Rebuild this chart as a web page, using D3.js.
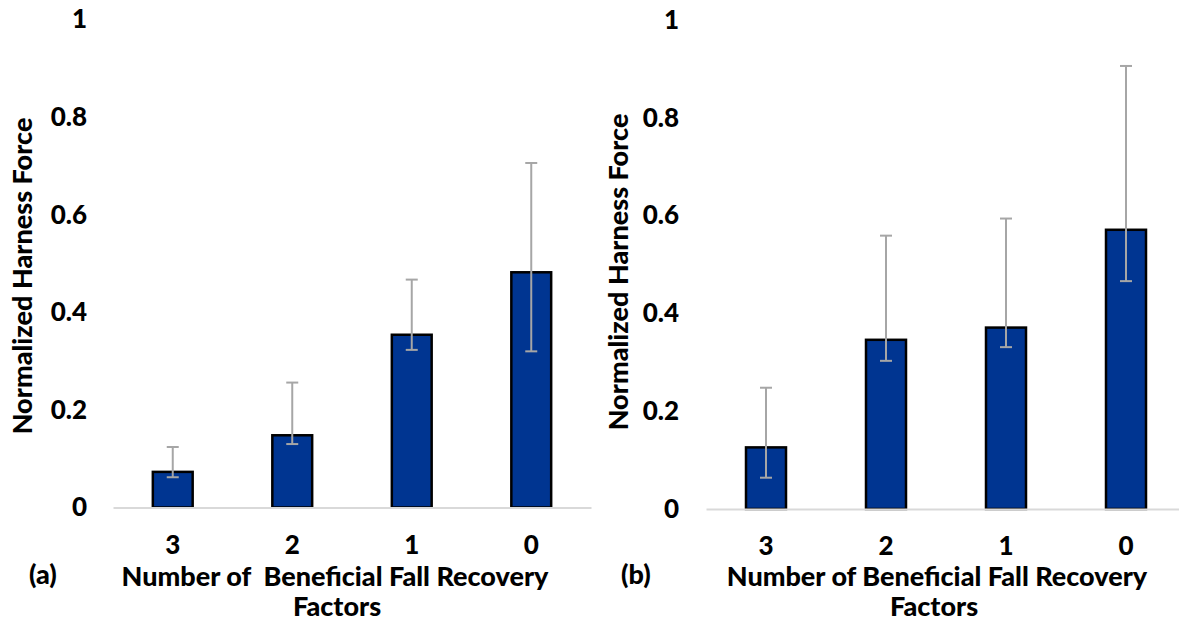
<!DOCTYPE html>
<html>
<head>
<meta charset="utf-8">
<title>Normalized Harness Force</title>
<script src="https://d3js.org/d3.v7.min.js"></script>
<style>
    body { margin: 0; background: #fff; }
    svg text { font-family: Lato, "Open Sans", sans-serif; font-weight: 900; fill: #000; }
</style>
</head>
<body>
<svg id="chart" width="1179" height="622"></svg>
<script>
    // values
    const categories = ["3", "2", "1", "0"];
    const yTicks = [0, 0.2, 0.4, 0.6, 0.8, 1];

    const meansA = [0.073, 0.148, 0.354, 0.482];
    const upperA = [0.124, 0.256, 0.467, 0.706];
    const lowerA = [0.062, 0.130, 0.323, 0.320];

    const meansB = [0.126, 0.346, 0.371, 0.571];
    const upperB = [0.248, 0.559, 0.594, 0.906];
    const lowerB = [0.064, 0.303, 0.331, 0.466];

    const svg = d3.select("#chart");

    function drawPanel(opts) {
        const rows = categories.map((c, i) => ({
            cat: c, mean: opts.means[i], hi: opts.upper[i], lo: opts.lower[i]
        }));

        const x = d3.scaleBand().domain(categories).range([opts.left, opts.right]).padding(0);
        const y = d3.scaleLinear().domain([0, 1]).range([opts.bottom, opts.top]);
        const barW = x.bandwidth() / 3;

        const g = svg.append("g");

        // bars
        g.selectAll(".bar")
            .data(rows)
            .enter().append("rect")
            .attr("class", "bar")
            .attr("x", d => x(d.cat) + x.bandwidth() / 2 - barW / 2)
            .attr("y", d => y(d.mean))
            .attr("width", barW)
            .attr("height", d => y(0) - y(d.mean))
            .attr("fill", "#003591")
            .attr("stroke", "#000")
            .attr("stroke-width", 2.5);

        // error bars
        const err = g.selectAll(".err").data(rows).enter().append("g").attr("class", "err")
            .attr("stroke", "#a6a6a6").attr("stroke-width", 2);
        const cx = d => x(d.cat) + x.bandwidth() / 2;
        err.append("line")
            .attr("x1", cx).attr("x2", cx)
            .attr("y1", d => y(d.hi)).attr("y2", d => y(d.lo));
        err.append("line")
            .attr("x1", d => cx(d) - 6).attr("x2", d => cx(d) + 6)
            .attr("y1", d => y(d.hi)).attr("y2", d => y(d.hi));
        err.append("line")
            .attr("x1", d => cx(d) - 6).attr("x2", d => cx(d) + 6)
            .attr("y1", d => y(d.lo)).attr("y2", d => y(d.lo));

        // x axis (baseline drawn over the bars)
        const xAxis = g.append("g")
            .attr("transform", `translate(0,${opts.bottom})`)
            .call(d3.axisBottom(x).tickSize(0).tickSizeOuter(0).tickPadding(28));
        xAxis.select(".domain").attr("stroke", "#d9d9d9").attr("stroke-width", 2);
        xAxis.selectAll("text").attr("font-size", 26).attr("font-family", null);

        // y axis, labels only
        const yAxis = g.append("g")
            .attr("transform", `translate(${opts.left},0)`)
            .call(d3.axisLeft(y).tickValues(yTicks).tickSize(0).tickPadding(opts.yPad).tickFormat(d => String(d)));
        yAxis.select(".domain").remove();
        yAxis.selectAll("text").attr("font-size", 26).attr("font-family", null);

        // y title
        g.append("text")
            .attr("transform", `translate(${opts.yTitleX},${opts.yTitleY}) rotate(-90)`)
            .attr("text-anchor", "middle")
            .attr("dy", "0.35em")
            .attr("font-size", 27)
            .text("Normalized Harness Force");

        // x title, two lines
        g.append("text")
            .attr("x", opts.xTitleX).attr("y", 586)
            .attr("text-anchor", "middle")
            .attr("font-size", 27)
            .attr("xml:space", "preserve")
            .text(opts.xTitle);
        g.append("text")
            .attr("x", opts.factorsX).attr("y", 616)
            .attr("text-anchor", "middle")
            .attr("font-size", 27)
            .text("Factors");

        // panel letter
        g.append("text")
            .attr("x", opts.letterX).attr("y", 584)
            .attr("font-size", 27)
            .text(opts.letter);
    }

    drawPanel({
        means: meansA, upper: upperA, lower: lowerA,
        left: 113, right: 591, top: 19.5, bottom: 507.5, yPad: 26,
        yTitleX: 23, yTitleY: 276,
        xTitle: "Number of  Beneficial Fall Recovery", xTitleX: 335, factorsX: 337,
        letter: "(a)", letterX: 29
    });

    drawPanel({
        means: meansB, upper: upperB, lower: lowerB,
        left: 706, right: 1186, top: 20, bottom: 509, yPad: 27,
        yTitleX: 619, yTitleY: 272,
        xTitle: "Number of Beneficial Fall Recovery", xTitleX: 937, factorsX: 934,
        letter: "(b)", letterX: 621
    });
</script>
</body>
</html>
